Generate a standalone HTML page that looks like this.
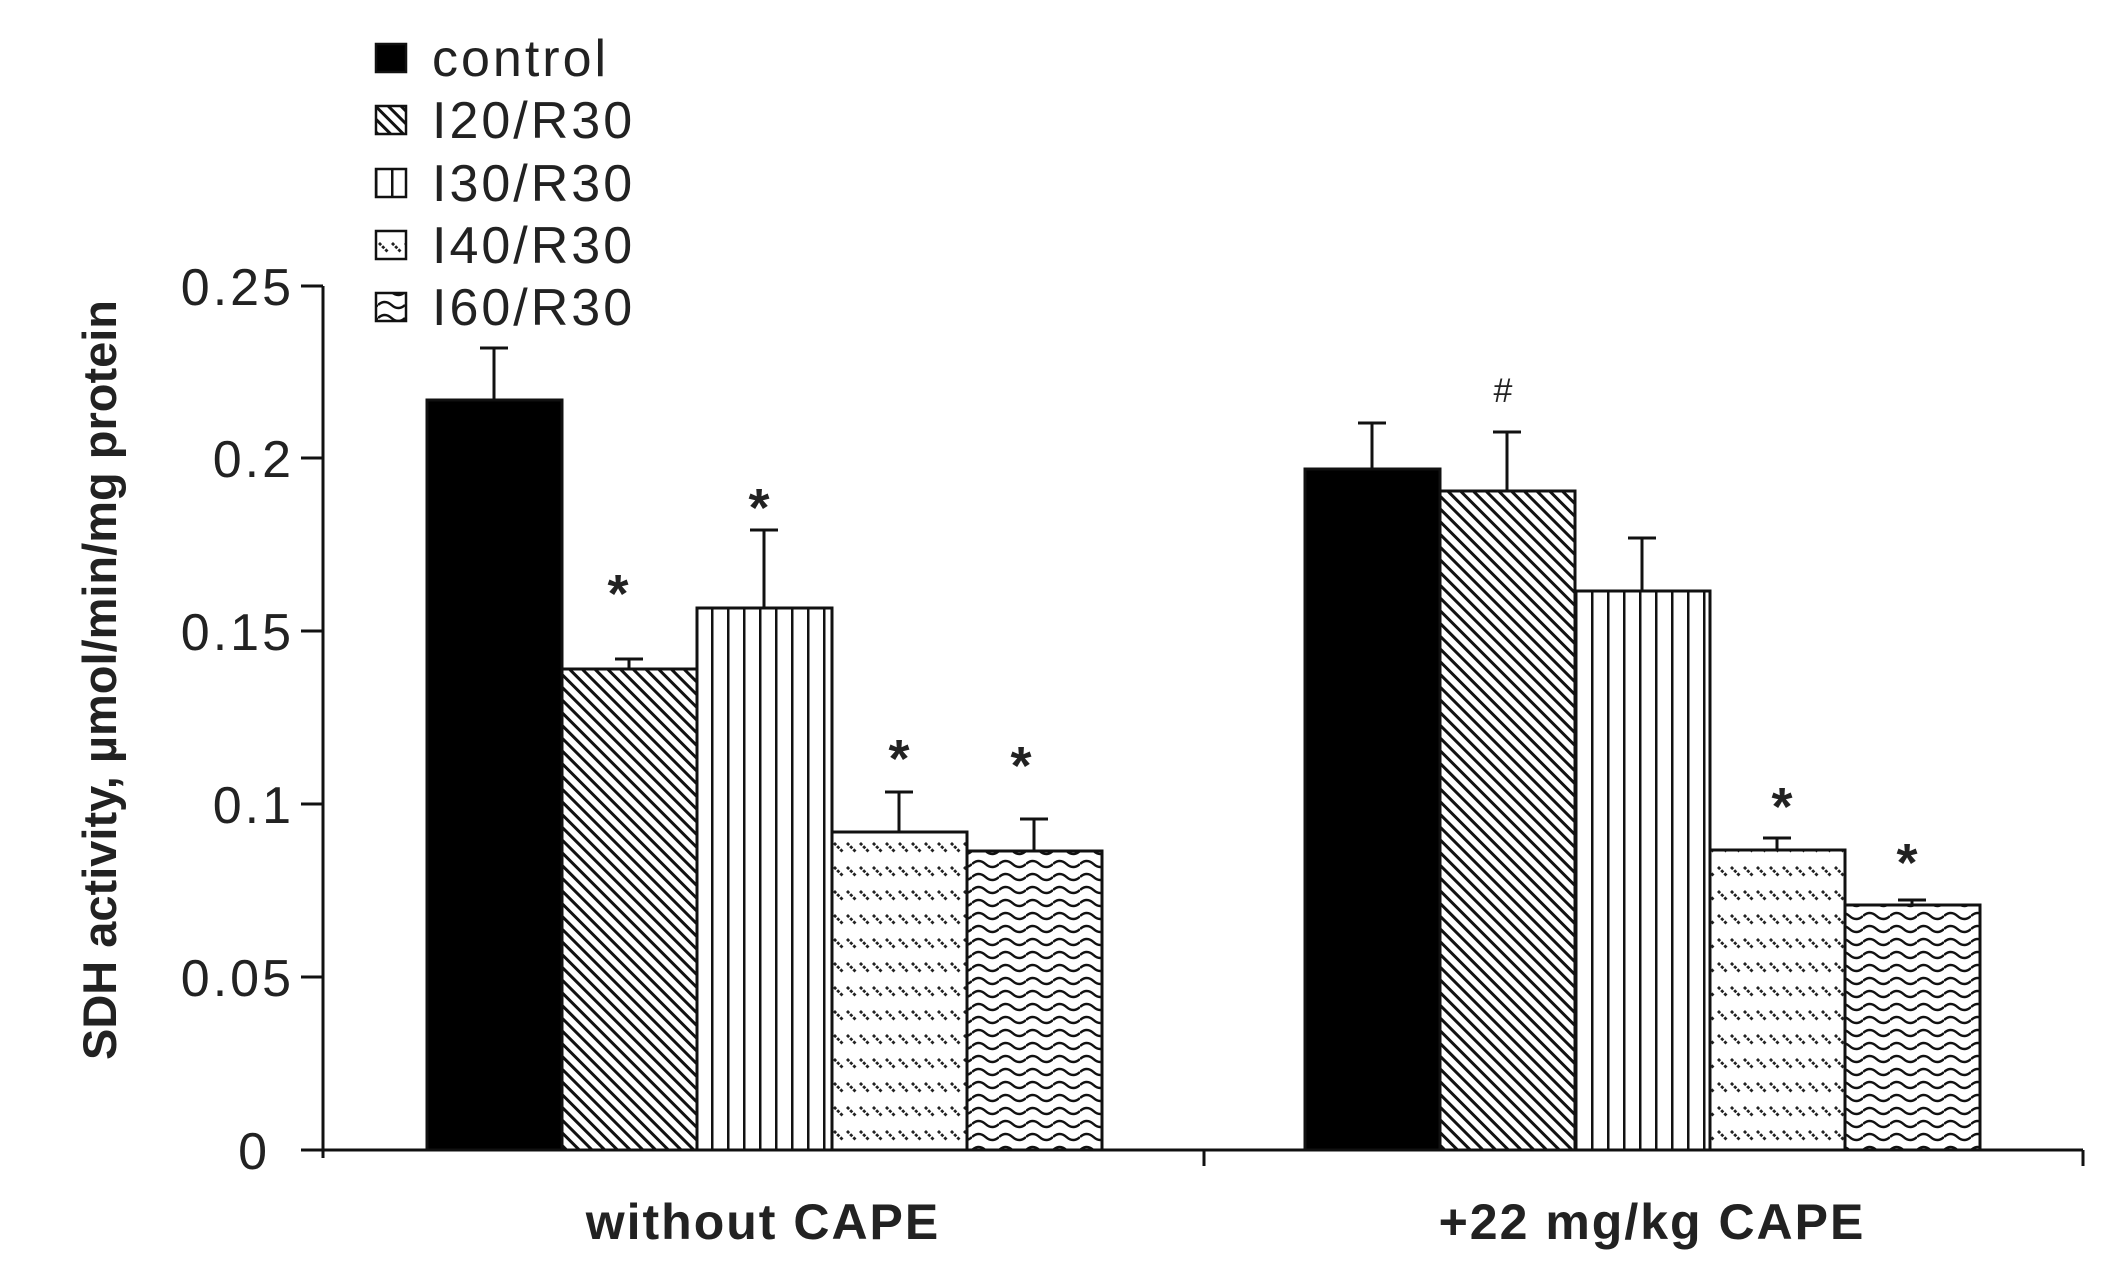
<!DOCTYPE html>
<html><head><meta charset="utf-8"><style>
html,body{margin:0;padding:0;background:#fff;}
svg{display:block;}
text{font-family:"Liberation Sans",Arial,sans-serif;fill:#222;}
</style></head><body>
<svg width="2117" height="1277" viewBox="0 0 2117 1277" xmlns="http://www.w3.org/2000/svg">
<defs>
<pattern id="p20" patternUnits="userSpaceOnUse" width="9" height="9" patternTransform="rotate(-45)">
<rect width="9" height="9" fill="#fff"/><rect x="0" y="0" width="3" height="9" fill="#111"/></pattern>
<pattern id="p30" patternUnits="userSpaceOnUse" width="16" height="16">
<rect width="16" height="16" fill="#fff"/><rect x="7" y="0" width="2.5" height="16" fill="#111"/></pattern>
<pattern id="p40" patternUnits="userSpaceOnUse" width="13" height="24">
<rect width="13" height="24" fill="#fff"/><line x1="2" y1="3" x2="11" y2="12" stroke="#222" stroke-width="2.8" stroke-dasharray="3 1.5"/></pattern>
<pattern id="p60" patternUnits="userSpaceOnUse" width="27" height="13">
<rect width="27" height="13" fill="#fff"/><path d="M0 6 Q6.75 0 13.5 6 T27 6" fill="none" stroke="#111" stroke-width="2.5"/></pattern>
</defs>
<g stroke="#111" stroke-width="3" fill="none">
<line x1="323" y1="286" x2="323" y2="1158"/>
<line x1="301" y1="1150" x2="2083" y2="1150"/>
<line x1="301" y1="286" x2="323" y2="286"/>
<line x1="301" y1="458" x2="323" y2="458"/>
<line x1="301" y1="631" x2="323" y2="631"/>
<line x1="301" y1="804" x2="323" y2="804"/>
<line x1="301" y1="977" x2="323" y2="977"/>
<line x1="1204" y1="1150" x2="1204" y2="1166"/>
<line x1="2083" y1="1150" x2="2083" y2="1166"/>
</g>
<g font-size="52" text-anchor="end" letter-spacing="3">
<text x="294" y="305">0.25</text>
<text x="294" y="477">0.2</text>
<text x="294" y="650">0.15</text>
<text x="294" y="823">0.1</text>
<text x="294" y="996">0.05</text>
<text x="270" y="1169">0</text>
</g>
<text transform="translate(116,680) rotate(-90)" font-size="47" font-weight="bold" text-anchor="middle">SDH activity, µmol/min/mg protein</text>
<text x="763" y="1239" font-size="50" font-weight="bold" text-anchor="middle" letter-spacing="2">without CAPE</text>
<text x="1652" y="1239" font-size="50" font-weight="bold" text-anchor="middle" letter-spacing="2">+22 mg/kg CAPE</text>
<g stroke="#111" stroke-width="3">
<line x1="494" y1="400" x2="494" y2="348"/><line x1="480" y1="348" x2="508" y2="348"/>
<line x1="629" y1="669" x2="629" y2="659"/><line x1="615" y1="659" x2="643" y2="659"/>
<line x1="764" y1="608" x2="764" y2="530"/><line x1="750" y1="530" x2="778" y2="530"/>
<line x1="899" y1="832" x2="899" y2="792"/><line x1="885" y1="792" x2="913" y2="792"/>
<line x1="1034" y1="851" x2="1034" y2="819"/><line x1="1020" y1="819" x2="1048" y2="819"/>
<line x1="1372" y1="469" x2="1372" y2="423"/><line x1="1358" y1="423" x2="1386" y2="423"/>
<line x1="1507" y1="491" x2="1507" y2="432"/><line x1="1493" y1="432" x2="1521" y2="432"/>
<line x1="1642" y1="591" x2="1642" y2="538"/><line x1="1628" y1="538" x2="1656" y2="538"/>
<line x1="1777" y1="850" x2="1777" y2="838"/><line x1="1763" y1="838" x2="1791" y2="838"/>
<line x1="1912" y1="905" x2="1912" y2="900"/><line x1="1898" y1="900" x2="1926" y2="900"/>
</g>
<g stroke="#111" stroke-width="3">
<rect x="427" y="400" width="135" height="750" fill="#000"/>
<rect x="562" y="669" width="135" height="481" fill="url(#p20)"/>
<rect x="697" y="608" width="135" height="542" fill="url(#p30)"/>
<rect x="832" y="832" width="135" height="318" fill="url(#p40)"/>
<rect x="967" y="851" width="135" height="299" fill="url(#p60)"/>
<rect x="1305" y="469" width="135" height="681" fill="#000"/>
<rect x="1440" y="491" width="135" height="659" fill="url(#p20)"/>
<rect x="1575" y="591" width="135" height="559" fill="url(#p30)"/>
<rect x="1710" y="850" width="135" height="300" fill="url(#p40)"/>
<rect x="1845" y="905" width="135" height="245" fill="url(#p60)"/>
</g>
<g font-size="54" font-weight="bold" text-anchor="middle">
<text x="618" y="612">*</text>
<text x="759" y="526">*</text>
<text x="899" y="777">*</text>
<text x="1021" y="784">*</text>
<text x="1782" y="825">*</text>
<text x="1907" y="881">*</text>
</g>
<text x="1503" y="402" font-size="34" text-anchor="middle">#</text>
<g stroke="#111" stroke-width="2.5">
<rect x="376" y="44" width="30" height="28" fill="#000"/>
<rect x="376" y="106" width="30" height="28" fill="url(#p20)"/>
<rect x="376" y="169" width="30" height="28" fill="url(#p30)"/>
<rect x="376" y="231" width="30" height="28" fill="url(#p40)"/>
<rect x="376" y="293" width="30" height="28" fill="url(#p60)"/>
</g>
<g font-size="52" letter-spacing="3">
<text x="432" y="76">control</text>
<text x="432" y="138">I20/R30</text>
<text x="432" y="201">I30/R30</text>
<text x="432" y="263">I40/R30</text>
<text x="432" y="325">I60/R30</text>
</g>
</svg>
</body></html>
